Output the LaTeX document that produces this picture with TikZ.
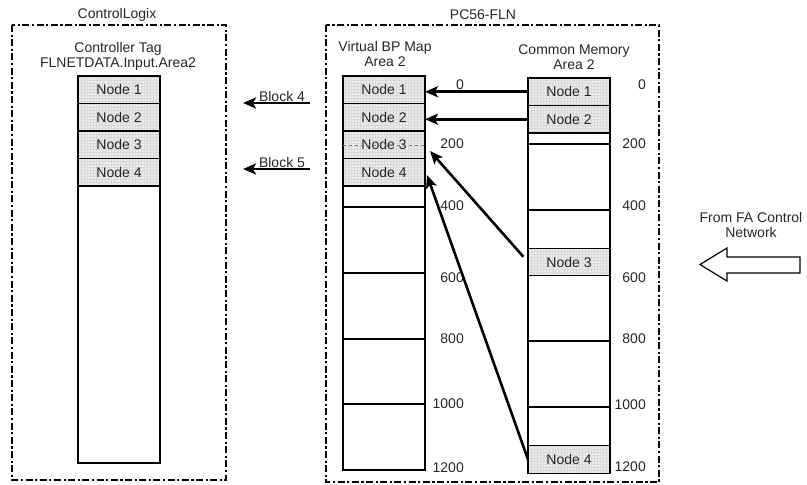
\documentclass[tikz,border=0pt]{standalone}
\usepackage{fontspec}
\setmainfont{Liberation Sans}
\usetikzlibrary{arrows.meta,patterns}
\begin{document}
\begin{tikzpicture}[x=1pt,y=-1pt,
  every node/.style={font=\fontsize{14}{15}\selectfont, text=black!85},
  frame/.style={line width=2.6pt, dash pattern=on 7pt off 2.5pt on 2.2pt off 2.5pt},
  cell/.style={fill=gray!16, postaction={pattern=grid, pattern color=gray!30},
    postaction={draw, line width=1.2pt},
    minimum width=82pt, minimum height=27.5pt, inner sep=0pt, outer sep=0pt},
  col/.style={draw, line width=1.2pt, fill=white},
  sep/.style={line width=1.2pt},
  lbl/.style={anchor=east, inner sep=0pt},
  flow/.style={line width=2.6pt, -{Stealth[length=13pt,width=11pt,inset=3pt]}},
  title/.style={align=center, inner sep=0pt}
]
\useasboundingbox (0,0) rectangle (807,485);

% frames
\draw[frame] (12,25) rectangle (226,480);
\draw[frame] (326,25) rectangle (659,482);
\node[title] (tcl) at (117,15) {ControlLogix};
\node[title] (tpc) at (483,15) {PC56-FLN};

% ControlLogix column
\node[title] (tct) at (118,56) {Controller Tag\\FLNETDATA.Input.Area2};
\draw[col] (78,186) rectangle (160,463);
\node[cell] (l1) at (119,89.75) {Node 1};
\node[cell] (l2) at (119,117.25) {Node 2};
\node[cell] (l3) at (119,144.75) {Node 3};
\node[cell] (l4) at (119,172.25) {Node 4};

% Virtual BP map column
\node[title] (tvb) at (385,53.5) {Virtual BP Map\\Area 2};
\draw[col] (343,186) rectangle (425,470);
\foreach \yy in {207,273,339,404} \draw[sep] (343,\yy) -- (425,\yy);
\node[cell] (v1) at (384,89.75) {Node 1};
\node[cell] (v2) at (384,117.25) {Node 2};
\node[cell] (v3) at (384,144.75) {Node 3};
\node[cell] (v4) at (384,172.25) {Node 4};
\draw[gray, dashed, line width=0.5pt] (v3.west) -- (v3.east);

% Common memory column
\node[title] (tcm) at (574,57.5) {Common Memory\\Area 2};
\draw[col] (528,133) rectangle (610,473);
\foreach \yy in {144,210,341,407} \draw[sep] (528,\yy) -- (610,\yy);
\node[cell] (c1) at (569,91.75) {Node 1};
\node[cell] (c2) at (569,119.25) {Node 2};
\node[cell] (c3) at (569,262) {Node 3};
\node[cell] (c4) at (569,459.5) {Node 4};

% offset labels
\node[lbl] (va0) at (464,85) {0};
\node[lbl] (va1) at (464,144) {200};
\node[lbl] (va2) at (464,206) {400};
\node[lbl] (va3) at (464,278) {600};
\node[lbl] (va4) at (464,339) {800};
\node[lbl] (va5) at (464,404) {1000};
\node[lbl] (va6) at (464,468) {1200};
\node[lbl] (ca0) at (646,85) {0};
\node[lbl] (ca1) at (646,144) {200};
\node[lbl] (ca2) at (646,206) {400};
\node[lbl] (ca3) at (646,278) {600};
\node[lbl] (ca4) at (646,339) {800};
\node[lbl] (ca5) at (646,405) {1000};
\node[lbl] (ca6) at (646,467) {1200};

% block arrows
\coordinate (b4s) at (310,103);
\coordinate (b4e) at (243,103);
\coordinate (b5s) at (310,169);
\coordinate (b5e) at (243,169);
\draw[flow] (b4s) -- (b4e);
\draw[flow] (b5s) -- (b5e);
\node[title] (bl4) at (282,96) {Block 4};
\node[title] (bl5) at (282,162) {Block 5};

% memory mapping arrows
\draw[flow] (c1.west) -- (c1.west -| v1.east) coordinate (t1);
\draw[flow] (c2.west) -- (c2.west -| v2.east) coordinate (t2);
\coordinate (t3) at (430,151);
\coordinate (t4) at (427,175);
\draw[flow, shorten <=7pt] (c3.west) -- (t3);
\draw[flow] (c4.west) -- (t4);

% incoming network arrow
\node[title] (fa) at (751,224.5) {From FA Control\\Network};
\draw[line width=1.2pt] (700,264.5) -- (727,248) -- (727,257) -- (800,257) -- (800,273) -- (727,273) -- (727,281) -- cycle;
\end{tikzpicture}
\end{document}
